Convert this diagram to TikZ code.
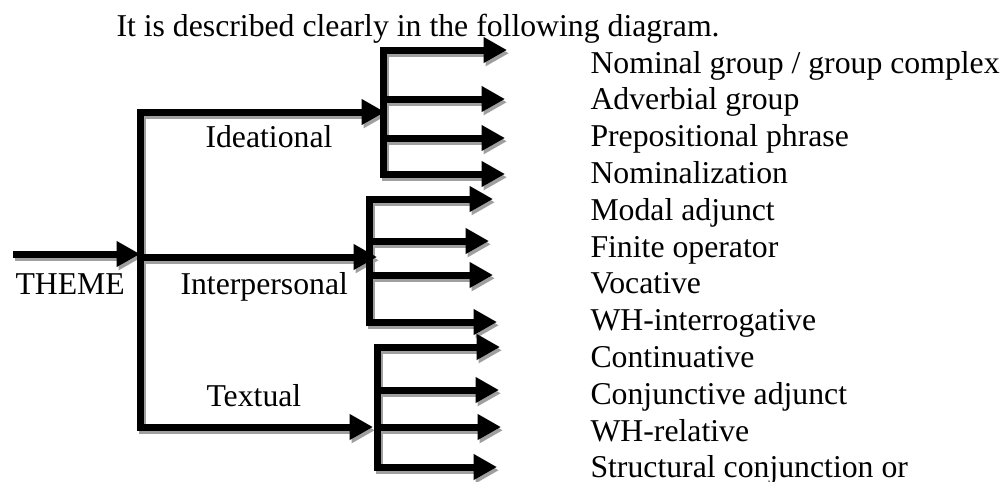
\documentclass[tikz,border=0pt]{standalone}
\usepackage{fontspec}
\setmainfont{Liberation Serif}
\usetikzlibrary{arrows.meta}

\begin{document}
\begin{tikzpicture}[x=0.4pt,y=-0.4pt,line width=2.8pt,
  bar/.style={line cap=rect},
  arr/.style={-{Triangle[length=9.4pt,width=9.8pt]}},
  lbl/.style={anchor=base west,inner sep=0pt,font=\fontsize{12.7}{15}\selectfont}]
  \useasboundingbox (0,0) rectangle (1001,481);

  \node[lbl] (intro) at (113,36) {It is described clearly in the following diagram.};
  \node[lbl] (theme) at (12,294) {THEME};
  \node[lbl] (idea) at (202,147) {Ideational};
  \node[lbl] (inter) at (177,294) {Interpersonal};
  \node[lbl] (textual) at (203,406) {Textual};

  % right hand column
  \foreach \t [count=\i from 0] in {Nominal group / group complex,Adverbial group,
      Prepositional phrase,Nominalization,Modal adjunct,Finite operator,Vocative,
      WH-interrogative,Continuative,Conjunctive adjunct,WH-relative,
      Structural conjunction or}
    \node[lbl] (r\i) at (587,73+36.8*\i) {\t};

  \coordinate (h0) at (13,254);
  \coordinate (hub) at (140,254);
  \coordinate (top) at (140,112);
  \coordinate (mid) at (140,257);
  \coordinate (bot) at (140,427);
  \coordinate (ie) at (385,112);
  \coordinate (pe) at (377,257);
  \coordinate (te) at (373,427);

  \foreach \y/\e [count=\k] in {50/507,99/505,138/505,174/505}{
    \coordinate (i\k) at (383,\y);
    \coordinate (ia\k) at (\e,\y);}
  \foreach \y/\e [count=\k] in {199/493,241/489,275/493,322/497}{
    \coordinate (p\k) at (369,\y);
    \coordinate (pa\k) at (\e,\y);}
  \foreach \y/\e [count=\k] in {347/500,390/499,427/501,467/497}{
    \coordinate (t\k) at (377,\y);
    \coordinate (ta\k) at (\e,\y);}

  % shadow first, then the black lines
  \foreach \ink/\dx/\dy in {gray!75/0.8pt/-1.3pt,black/0pt/0pt}{
    \begin{scope}[color=\ink,transform canvas={shift={(\dx,\dy)}}]
      \draw[arr] (h0) -- (hub);
      \foreach \from/\to in {top/bot,i1/i4,p1/p4,t1/t4}
        \draw[bar] (\from) -- (\to);
      \foreach \from/\to in {top/ie,mid/pe,bot/te,
          i1/ia1,i2/ia2,i3/ia3,i4/ia4,
          p1/pa1,p2/pa2,p3/pa3,p4/pa4,
          t1/ta1,t2/ta2,t3/ta3,t4/ta4}
        \draw[arr] (\from) -- (\to);
    \end{scope}}

\end{tikzpicture}
\end{document}
